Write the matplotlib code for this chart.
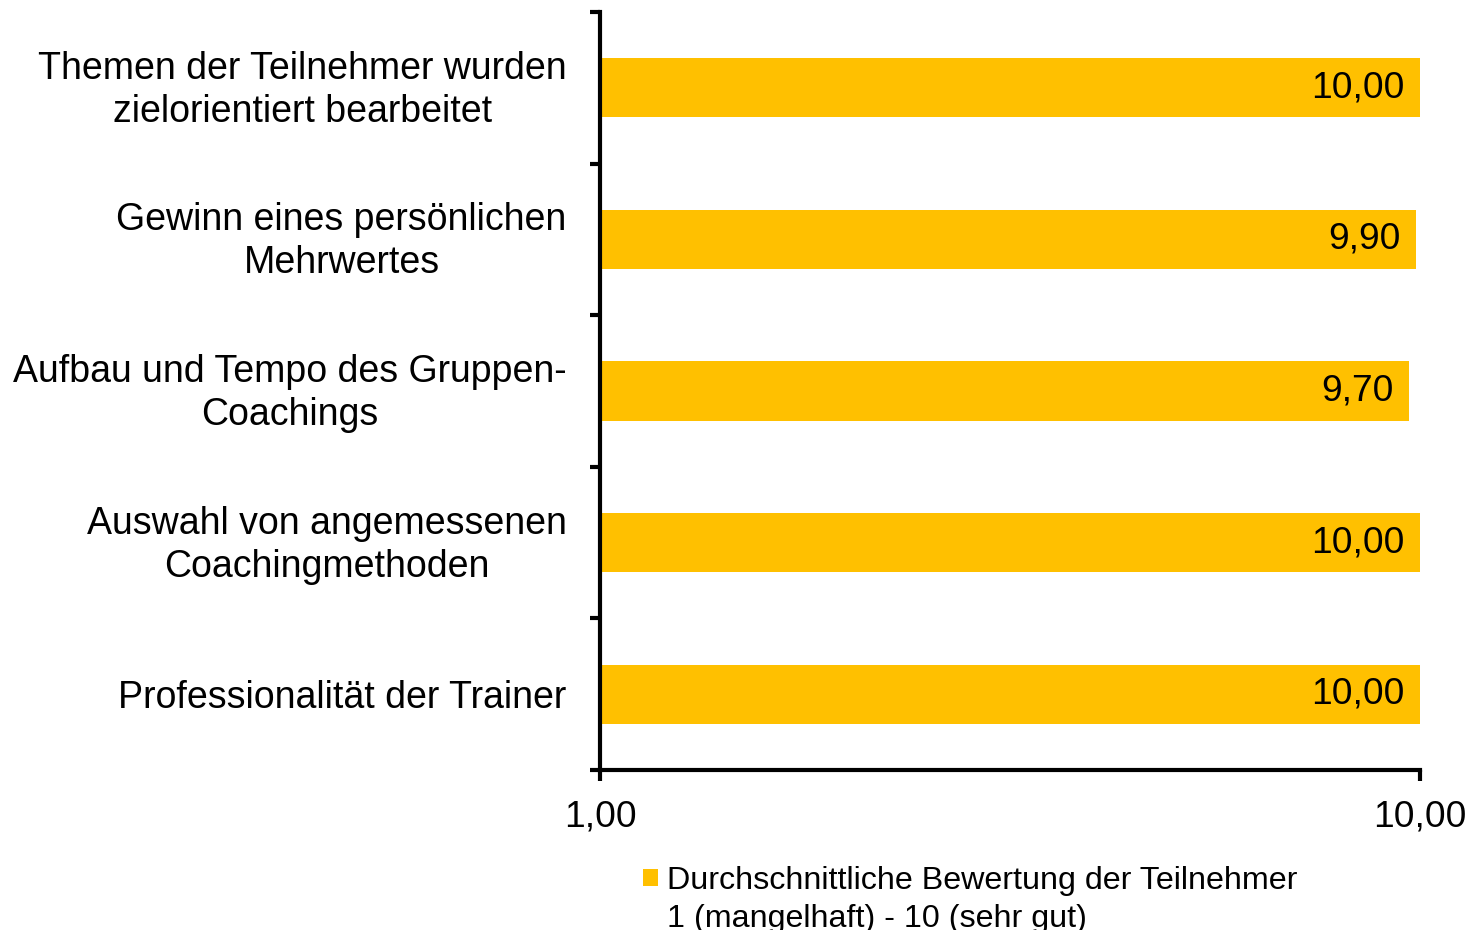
import matplotlib
matplotlib.use("Agg")
import matplotlib.pyplot as plt
import matplotlib.transforms as mtransforms
from matplotlib.ticker import FixedLocator, NullFormatter, NullLocator

plt.rcParams['font.family'] = ['Liberation Sans', 'DejaVu Sans']

categories = [
    "Themen der Teilnehmer wurden\nzielorientiert bearbeitet",
    "Gewinn eines persönlichen\nMehrwertes",
    "Aufbau und Tempo des Gruppen-\nCoachings",
    "Auswahl von angemessenen\nCoachingmethoden",
    "Professionalität der Trainer",
]
values = [10.00, 9.90, 9.70, 10.00, 10.00]
series_label = "Durchschnittliche Bewertung der Teilnehmer"
series_label_2 = "1 (mangelhaft) - 10 (sehr gut)"
x_ticks = [1, 10]
x_tick_labels = ["1,00", "10,00"]

color = "#FFC000"
fs = 26.7
fs_cat = 27
fs_leg = 23.2

fig = plt.figure(figsize=(14.71, 9.30), dpi=100)
ax = fig.add_axes([600/1471, 1-770/930, 820/1471, 758/930])

n = len(categories)
pos = [n - 1 - i for i in range(n)]
bars = ax.barh(pos, values, height=0.39, color=color, left=0, label=series_label)
ax.set_xscale('log')
ax.set_xlim(1, 10)
ax.set_ylim(-0.5, n - 0.5)

for p, v in zip(pos, values):
    ax.annotate(f"{v:.2f}".replace('.', ','), xy=(v, p), xytext=(-11.5, 0),
                textcoords='offset points', ha='right', va='center', fontsize=fs)

# x axis
ax.xaxis.set_major_locator(FixedLocator(x_ticks))
ax.xaxis.set_minor_locator(NullLocator())
ax.set_xticklabels(x_tick_labels, fontsize=fs)
ax.tick_params(axis='x', which='major', direction='out', length=8, width=3, pad=13)

# y axis: boundaries as major ticks, labels on minor
ax.yaxis.set_major_locator(FixedLocator([k - 0.5 for k in range(n + 1)]))
ax.yaxis.set_major_formatter(NullFormatter())
ax.yaxis.set_minor_locator(FixedLocator(pos))
ax.set_yticklabels(categories, minor=True, fontsize=fs_cat, multialignment='center',
                   linespacing=1.25)
ax.tick_params(axis='y', which='major', direction='out', length=7, width=3)
ax.tick_params(axis='y', which='minor', length=0, pad=24)

shift = mtransforms.ScaledTranslation(0, 5/100, fig.dpi_scale_trans)
for lab in ax.yaxis.get_minorticklabels():
    if '\n' in lab.get_text():
        lab.set_transform(lab.get_transform() + shift)

for s in ['top', 'right']:
    ax.spines[s].set_visible(False)
for s in ['left', 'bottom']:
    ax.spines[s].set_linewidth(3)

leg = fig.legend(handles=[bars], labels=[series_label], loc='upper left',
                 bbox_to_anchor=(643/1471, 1-866/930), frameon=False,
                 fontsize=fs_leg, handlelength=0.45, handleheight=0.45, handletextpad=0.3,
                 borderpad=0, borderaxespad=0)

fig.canvas.draw()
t = leg.get_texts()[0]
bb = t.get_window_extent()
fig.text(bb.x0 / fig.bbox.width, (bb.y0 - 38) / fig.bbox.height, series_label_2,
         fontsize=fs_leg, ha='left', va='bottom')

fig.savefig("out.png", dpi=100)
